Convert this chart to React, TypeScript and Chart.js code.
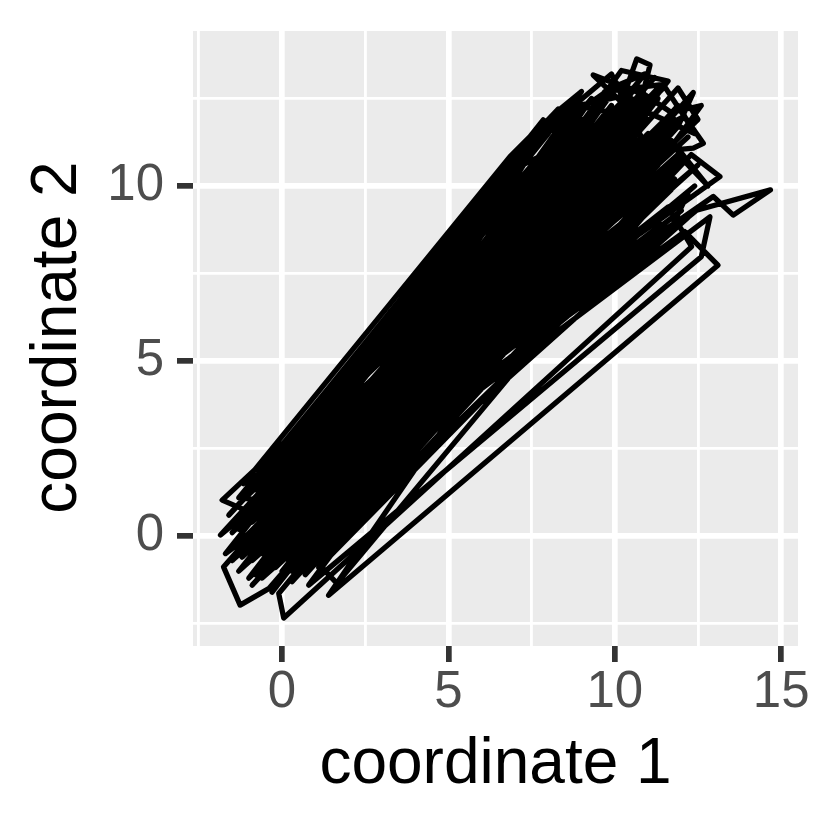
import React, { useEffect, useRef } from "react";
import { Chart, registerables } from "chart.js";

Chart.register(...registerables);

// Path through the points, in order (coordinate 1 = x, coordinate 2 = y)
const coord1 = [
  0.2, 9.6, -0.5, 10.8, 0.9, 8.7, -1.2, 11.3, 0.1, 9.2,
  -0.7, 10.6, 0.6, 8.2, -0.3, 11.7, 1.2, 9.9, -0.9, 10.1,
  -1.16, 6.85, 7.45, 7.85, 8.9, 0.4, 10.4, -1.4, 11.0, 0.7,
  9.5, -0.2, 12.1, 1.0, 8.6, -1.0, 10.2, 0.3, 9.1, -0.6,
  11.4, 0.8, 8.0, -1.5, 10.9, 9.35, 10.2, 10.66, 11.06, 10.7,
  0.0, 9.7, -0.9, 7.6, -0.8, 12.4, 0.5, 9.3, -0.4, 10.7,
  1.1, 8.4, -1.76, -1.26, -0.4, 11.8, 0.2, 9.0, -0.1, 10.3,
  1.5, 8.8, -1.1, 7.4, 0.6, 9.8, -0.5, 12.46, 14.68, 13.56,
  12.96, 11.9, -0.6, 7.8, -1.7, 12.0, 0.1, 9.4, -0.3, 11.1,
  1.4, 8.5, -0.9, 10.5, 0.4, 9.6, -0.1, 0.05, 12.31, 11.6,
  -0.6, 10.0, 0.7, 8.1, -1.3, 11.2, 0.3, 9.2, -0.2, 10.6,
  1.0, 8.9, -1.8, -1.0, 11.5, 11.96, 12.66, 12.36, 11.4, 0.5,
  9.9, -0.7, 10.8, 1.2, 8.3, -1.1, 12.2, 0.0, 9.5, -0.4,
  11.3, 0.9, 7.7, -1.6, 10.1, 0.2, 12.36, 11.9, 1.3, 9.0,
  -0.8, 10.4, 0.6, 8.6, -1.2, 11.7, 0.3, 9.7, -0.5, 13.16,
  12.3, 0.8, 9.1, -0.2, 10.9, -0.8, 8.0, -1.4, 11.6, 0.4,
  9.3, -0.9, 10.2, 1.4, 13.1, 12.1, -0.3, 9.8, 0.7, 8.7,
  -1.0, 11.0, 0.1, 9.4, -1.85, -1.2, 10.7, 0.9, 8.2, -0.6,
  12.86, 12.6, 0.8, 9.6, -0.1, 11.4, 1.2, 8.8, -1.3, 10.3,
  0.5, 9.0, -0.7, 11.8, 1.65, 1.1, 10.0, -0.4, 8.4, 0.2,
  10.6, -1.1, 9.5, 0.8, 12.5, -0.3, 8.9, 1.0, 10.4, -0.9,
  9.2, 0.4, 11.1, -0.2, 8.1, 1.3, 10.8, -1.5, 9.8, 0.6,
  11.9, -0.5, 9.1, 0.3, 10.2, -1.0, 8.5, 1.1, 11.3, 0.0,
  9.7, 11.4, 10.3, -0.2, 11.9, 12.4, 11.0, 0.6, 10.0, 10.9,
  -0.8, 12.0, 12.8, 11.7, 0.9, 10.5, 9.6, 11.2, -0.5, 12.2,
  11.6, 12.2, 0.3, 8.9, 9.9, 10.8, -1.2, 11.7, 10.4, 1.0,
  10.6, 11.7, 12.6, 11.3, 0.1, 9.2, 10.1, 12.1, -0.4, 9.5,
  -1.1, 7.6, 8.3, 0.2, -0.8, 7.2, 9.9, 10.9, 0.4, -1.3,
  8.1, 9.0, -0.5, 8.4, 10.4, -1.0, 7.0, 11.3, 0.6, -0.3,
  7.3, 8.8, 11.0, 0.0, 11.6, 10.2, 0.7, 11.9, 12.5, -0.6,
];

const coord2 = [
  0.4, 10.3, -0.2, 9.4, 0.7, 10.9, 0.3, 10.8, -0.9, 9.1,
  1.0, 12.0, -0.3, 9.5, 0.5, 9.9, 0.2, 12.3, -0.7, 8.5,
  1.5, 10.84, 11.41, 11.89, 11.2, 1.1, 10.1, -0.3, 11.5, -1.1,
  8.2, 0.8, 10.7, -0.5, 11.6, 0.6, 9.6, -0.6, 11.3, -1.2,
  8.9, 1.3, 9.0, 0.1, 12.6, 13.17, 12.4, 13.63, 13.46, 12.1,
  -0.1, 9.7, 1.3, 10.7, -0.4, 10.0, 0.2, 12.5, 1.2, 8.4,
  -0.9, 10.1, -0.88, -1.97, -1.5, 11.9, 0.9, 8.7, -1.3, 11.1,
  0.5, 9.9, 1.1, 11.0, 0.1, 11.8, -0.8, 9.31, 9.89, 9.17,
  9.7, 9.0, 1.2, 10.9, -0.5, 9.3, 0.6, 10.6, -1.6, 12.3,
  1.0, 8.4, 0.0, 10.8, -0.5, 9.5, -1.64, -2.34, 8.27, 9.4,
  0.3, 11.4, 0.6, 10.2, -1.0, 9.7, 1.4, 12.0, -0.9, 8.8,
  0.1, 10.5, 1.03, 0.7, 12.84, 12.17, 11.22, 11.08, 11.0, -1.0,
  9.2, 0.5, 10.3, -0.3, 11.1, -0.2, 11.4, 0.8, 10.0, -0.6,
  8.6, 1.0, 10.0, 0.6, 12.9, -0.4, 12.67, 11.7, 0.4, 9.6,
  -1.1, 11.6, 0.8, 9.2, -0.6, 10.5, -1.3, 11.0, 1.0, 10.27,
  10.9, -0.7, 10.0, 0.1, 9.8, 1.4, 11.5, 0.4, 11.2, -0.2,
  8.9, -1.4, 10.5, -1.69, 7.74, 8.7, 0.2, 10.7, -0.4, 8.9,
  0.9, 10.1, -1.1, 11.7, 0.03, 0.55, 9.0, 0.3, 10.6, -0.5,
  9.12, 7.98, -1.4, 9.9, 1.0, 11.8, -0.6, 10.3, 0.2, 9.3,
  0.6, 11.9, -0.9, 10.2, -1.35, -0.8, 8.3, 0.7, 9.7, -0.7,
  11.3, -0.1, 9.4, 1.1, 10.6, -0.4, 11.4, 0.0, 9.9, 0.4,
  10.4, -0.8, 11.0, 0.6, 9.3, -0.2, 12.4, -0.7, 9.0, 1.2,
  10.9, -0.3, 10.8, 0.3, 8.8, -1.2, 10.5, 0.6, 9.6, 0.2,
  12.7, 12.9, 11.8, -0.5, 12.3, 11.5, 12.1, 0.4, 13.0, 12.0,
  0.2, 10.8, 10.0, 11.3, -0.4, 12.5, 11.4, 13.1, 0.6, 9.8,
  8.6, 9.1, -1.0, 12.4, 13.2, 11.4, -0.2, 8.8, 8.0, -0.7,
  12.8, 12.1, 12.3, 10.6, 0.3, 11.9, 11.0, 12.0, -0.9, 10.9,
  1.3, 11.5, 12.2, -0.2, 1.4, 11.0, 12.8, 13.2, 0.9, 1.1,
  12.0, 12.7, 1.5, 12.2, 12.6, 1.2, 10.5, 12.5, -0.6, 1.3,
  10.3, 12.3, 11.9, -1.0, 13.0, 13.3, 0.9, 12.8, 11.9, 0.0,
];

const xTicks = [-2.5, 0, 2.5, 5, 7.5, 10, 12.5, 15];
const yTicks = [-2.5, 0, 2.5, 5, 7.5, 10, 12.5];
const xTitle = "coordinate 1";
const yTitle = "coordinate 2";

const FONT = "'Liberation Sans', Arial, Helvetica, sans-serif";
const isMajor = (v: number) => Math.abs(v % 5) < 1e-9;

export default function App() {
  const ref = useRef<HTMLCanvasElement>(null);

  useEffect(() => {
    document.body.style.margin = "0";
    const canvas = ref.current!;
    const points = coord1.map((x, i) => ({ x, y: coord2[i] }));

    const xLo = Math.min(...coord1), xHi = Math.max(...coord1);
    const yLo = Math.min(...coord2), yHi = Math.max(...coord2);
    const xPad = (xHi - xLo) * 0.05, yPad = (yHi - yLo) * 0.05;

    const gridCommon = {
      color: "#FFFFFF",
      lineWidth: (c: any) => (c.tick && isMajor(c.tick.value) ? 5.7 : 2.85),
      drawTicks: true,
      tickLength: 16,
      tickWidth: 5.7,
      tickColor: (c: any) => (c.tick && isMajor(c.tick.value) ? "#333333" : "rgba(0,0,0,0)"),
    };

    const panelBg = {
      id: "panelBg",
      beforeDraw(chart: any) {
        const { ctx, chartArea: a } = chart;
        ctx.save();
        ctx.fillStyle = "#EBEBEB";
        ctx.fillRect(a.left, a.top, a.right - a.left, a.bottom - a.top);
        ctx.restore();
      },
    };

    const titles = {
      id: "axisTitles",
      afterDraw(chart: any) {
        const { ctx, chartArea: a } = chart;
        ctx.save();
        ctx.fillStyle = "#000000";
        ctx.font = `64px ${FONT}`;
        ctx.textAlign = "center";
        ctx.textBaseline = "alphabetic";
        ctx.fillText(xTitle, (a.left + a.right) / 2, 783);
        ctx.translate(76, (a.top + a.bottom) / 2 - 1);
        ctx.rotate(-Math.PI / 2);
        ctx.fillText(yTitle, 0, 0);
        ctx.restore();
      },
    };

    const chart = new Chart(canvas, {
      type: "scatter",
      data: {
        datasets: [
          {
            data: points,
            showLine: true,
            borderColor: "#000000",
            backgroundColor: "#000000",
            borderWidth: 5.3,
            borderJoinStyle: "round",
            borderCapStyle: "butt",
            pointRadius: 0,
            pointHoverRadius: 0,
            tension: 0,
            fill: false,
          } as any,
        ],
      },
      options: {
        animation: false,
        responsive: false,
        devicePixelRatio: 1,
        events: [],
        layout: { padding: { top: 31, right: 32, left: 0, bottom: 0 } },
        plugins: { legend: { display: false }, tooltip: { enabled: false } },
        scales: {
          x: {
            type: "linear",
            min: xLo - xPad,
            max: xHi + xPad,
            afterBuildTicks: (s: any) => {
              s.ticks = xTicks.map((value) => ({ value }));
            },
            afterFit: (s: any) => {
              s.height = 184;
              s.paddingLeft = 0;
              s.paddingRight = 0;
            },
            border: { display: false },
            grid: gridCommon as any,
            ticks: {
              autoSkip: false,
              maxRotation: 0,
              padding: 5,
              color: "#4D4D4D",
              font: { family: FONT, size: 51, lineHeight: 1 },
              callback: (v: any) => (isMajor(Number(v)) ? String(v) : ""),
            },
          },
          y: {
            type: "linear",
            min: yLo - yPad,
            max: yHi + yPad,
            afterBuildTicks: (s: any) => {
              s.ticks = yTicks.map((value) => ({ value }));
            },
            afterFit: (s: any) => {
              s.width = 193;
              s.paddingTop = 0;
              s.paddingBottom = 0;
            },
            border: { display: false },
            grid: gridCommon as any,
            ticks: {
              autoSkip: false,
              padding: 13,
              color: "#4D4D4D",
              font: { family: FONT, size: 51, lineHeight: 1 },
              callback: (v: any) => (isMajor(Number(v)) ? String(v) : ""),
            },
          },
        },
      },
      plugins: [panelBg, titles],
    });

    return () => chart.destroy();
  }, []);

  return (
    <canvas
      ref={ref}
      width={830}
      height={830}
      style={{ display: "block", width: 830, height: 830 }}
    />
  );
}
